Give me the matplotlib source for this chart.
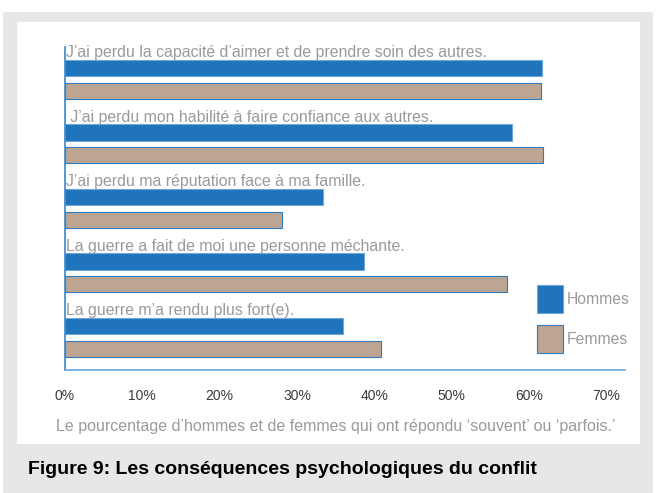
import matplotlib.pyplot as plt
from matplotlib.patches import Rectangle

plt.rcParams['font.family'] = ['Liberation Sans', 'DejaVu Sans']

categories = [
    "J\u2019ai perdu la capacité d\u2019aimer et de prendre soin des autres.",
    " J\u2019ai perdu mon habilité à faire confiance aux autres.",
    "J\u2019ai perdu ma réputation face à ma famille.",
    "La guerre a fait de moi une personne méchante.",
    "La guerre m\u2019a rendu plus fort(e).",
]
hommes = [61.7, 57.8, 33.3, 38.6, 35.9]
femmes = [61.6, 61.8, 28.1, 57.1, 40.9]
xticks = [0, 10, 20, 30, 40, 50, 60, 70]
xticklabels = ['0%', '10%', '20%', '30%', '40%', '50%', '60%', '70%']

W, H = 657, 493
fig = plt.figure(figsize=(W / 100, H / 100), dpi=100)

# grey frame and white card
fig.patches.append(Rectangle((3 / W, 0), 650 / W, 481 / H, transform=fig.transFigure,
                             facecolor='#e6e7e8', edgecolor='none', zorder=-2))
fig.patches.append(Rectangle((17 / W, 49 / H), 623 / W, 422 / H, transform=fig.transFigure,
                             facecolor='white', edgecolor='none', zorder=-1))

ax = fig.add_axes([65 / W, 123 / H, 560 / W, 323 / H])
ax.set_facecolor('none')

blue = '#1f74bb'
tan = '#bca592'
ys = list(range(len(categories)))
off = 0.35
ax.barh(ys, hommes, height=0.25, color=blue, edgecolor='#6fa8d8', linewidth=0.8,
        label='Hommes')
ax.barh([y + off for y in ys], femmes, height=0.25, color=tan, edgecolor='#2e7cc0',
        linewidth=0.8, label='Femmes')

for y, c in zip(ys, categories):
    ax.text(0.1, y - 0.17, c, va='baseline', ha='left', fontsize=11.4, color='#9a9a9a')

ax.set_xlim(0, 72.4)
ax.set_ylim(4.682, -0.326)
ax.set_yticks([])
ax.set_xticks(xticks)
ax.set_xticklabels(xticklabels, fontsize=10, color='#3a3a3a')
ax.tick_params(axis='x', length=0, pad=14)
for s in ['top', 'right']:
    ax.spines[s].set_visible(False)
ax.spines['left'].set_color('#3a85c8')
ax.spines['bottom'].set_color('#6aa6dc')
ax.spines['left'].set_linewidth(1.2)
ax.spines['bottom'].set_linewidth(1.2)

ax.set_xlabel("Le pourcentage d\u2019hommes et de femmes qui ont répondu \u2018souvent\u2019 ou \u2018parfois.\u2019",
              fontsize=11.5, color='#9a9a9a')
ax.xaxis.set_label_coords((336 - 65) / 560, -49 / 323)

leg = ax.legend(loc='upper left', bbox_to_anchor=(537 / W, 1 - 285 / H),
                bbox_transform=fig.transFigure, frameon=False, fontsize=11.3,
                handlelength=1.65, handleheight=2.35, labelspacing=0.76,
                handletextpad=0.25, borderpad=0, borderaxespad=0)
for t in leg.get_texts():
    t.set_color('#9a9a9a')

fig.text(28 / W, 1 - 470 / H, 'Figure 9: Les conséquences psychologiques du conflit',
         fontsize=14, fontweight='bold', color='black', va='center', ha='left')

fig.savefig('out.png', dpi=100)
